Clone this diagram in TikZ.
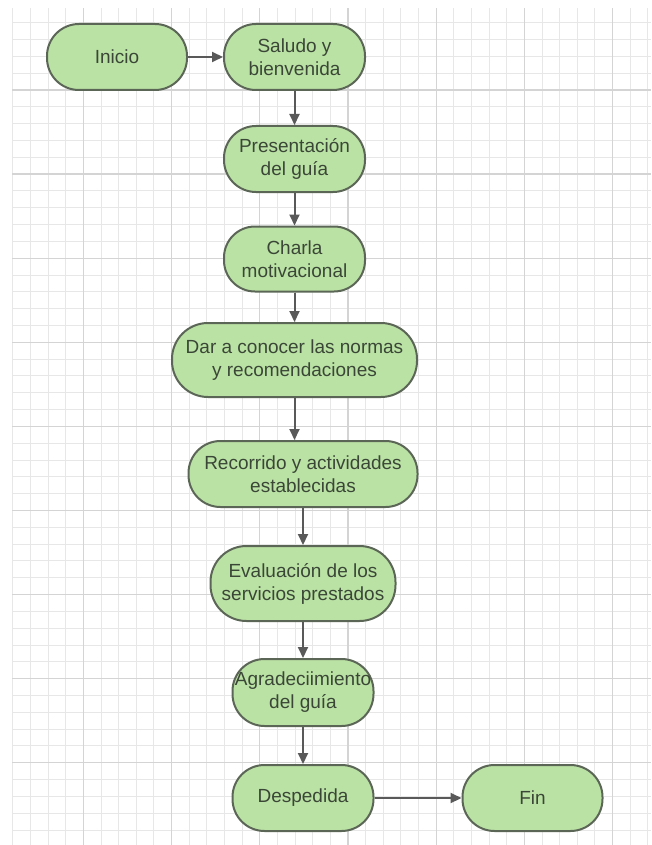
\documentclass[tikz,border=0pt]{standalone}
\usepackage{fontspec}
\setmainfont{Liberation Sans}
\usetikzlibrary{arrows.meta}
\definecolor{nodefill}{HTML}{BBE2A5}
\definecolor{nodeline}{HTML}{5C6657}
\definecolor{txt}{HTML}{3A4736}
\definecolor{arr}{HTML}{595959}
\definecolor{gminor}{HTML}{E7E7E7}
\definecolor{gmajor}{HTML}{D4D4D4}
\begin{document}
\begin{tikzpicture}[x=1pt,y=-1pt,
  term/.style={draw=nodeline, line width=2pt, fill=nodefill, text=txt,
    align=center, inner sep=0pt, font=\fontsize{19}{23}\selectfont},
  conn/.style={draw=arr, line width=2pt, -{Triangle[length=11pt,width=10pt]}},
  minorline/.style={draw=gminor, line width=1pt},
  majorline/.style={draw=gmajor, line width=1.2pt}]
\useasboundingbox[fill=white] (0,0) rectangle (651,845);
\begin{scope}
\clip (12,8) rectangle (651,845);
\foreach \i in {0,...,36} \draw[minorline] ({12.8+17.64*\i},8) -- ({12.8+17.64*\i},845);
\foreach \j in {1,...,50} \draw[minorline] (12,{5.9+16.82*\j}) -- (651,{5.9+16.82*\j});
\foreach \k in {0,...,6} \draw[majorline] ({83.4+88.2*\k},8) -- ({83.4+88.2*\k},845);
\foreach \k in {0,...,8} \draw[majorline] (12,{90+84.1*\k}) -- (651,{90+84.1*\k});
\end{scope}
\node[term, minimum width=140pt, minimum height=66pt, rounded corners=32pt] (ini) at (117,57) {Inicio};
\node[term, minimum width=141pt, minimum height=66pt, rounded corners=32pt] (sal) at (294.5,57) {Saludo y\\bienvenida};
\node[term, minimum width=141pt, minimum height=66pt, rounded corners=32pt] (pre) at (294.5,159) {Presentación\\del guía};
\node[term, minimum width=141pt, minimum height=65pt, rounded corners=31pt] (cha) at (294.5,259) {Charla\\motivacional};
\node[term, minimum width=245pt, minimum height=74pt, rounded corners=36pt] (dar) at (294.5,360) {Dar a conocer las normas\\y recomendaciones};
\node[term, minimum width=229pt, minimum height=66pt, rounded corners=32pt] (rec) at (303,474) {Recorrido y actividades\\establecidas};
\node[term, minimum width=185pt, minimum height=75pt, rounded corners=36pt] (eva) at (303,583.5) {Evaluación de los\\servicios prestados};
\node[term, minimum width=141pt, minimum height=67pt, rounded corners=32pt] (agr) at (303,692.5) {Agradeciimiento\\del guía};
\node[term, minimum width=141pt, minimum height=66pt, rounded corners=32pt] (des) at (303,798) {Despedida};
\node[term, minimum width=140pt, minimum height=66pt, rounded corners=32pt] (fin) at (532.5,798) {Fin};
\draw[conn] (ini) -- (sal);
\draw[conn] (sal) -- (pre);
\draw[conn] (pre) -- (cha);
\draw[conn] (cha) -- (dar);
\draw[conn] (dar.south) -- (dar.south |- rec.north);
\draw[conn] (rec) -- (eva);
\draw[conn] (eva) -- (agr);
\draw[conn] (agr) -- (des);
\draw[conn] (des) -- (fin);
\end{tikzpicture}
\end{document}
